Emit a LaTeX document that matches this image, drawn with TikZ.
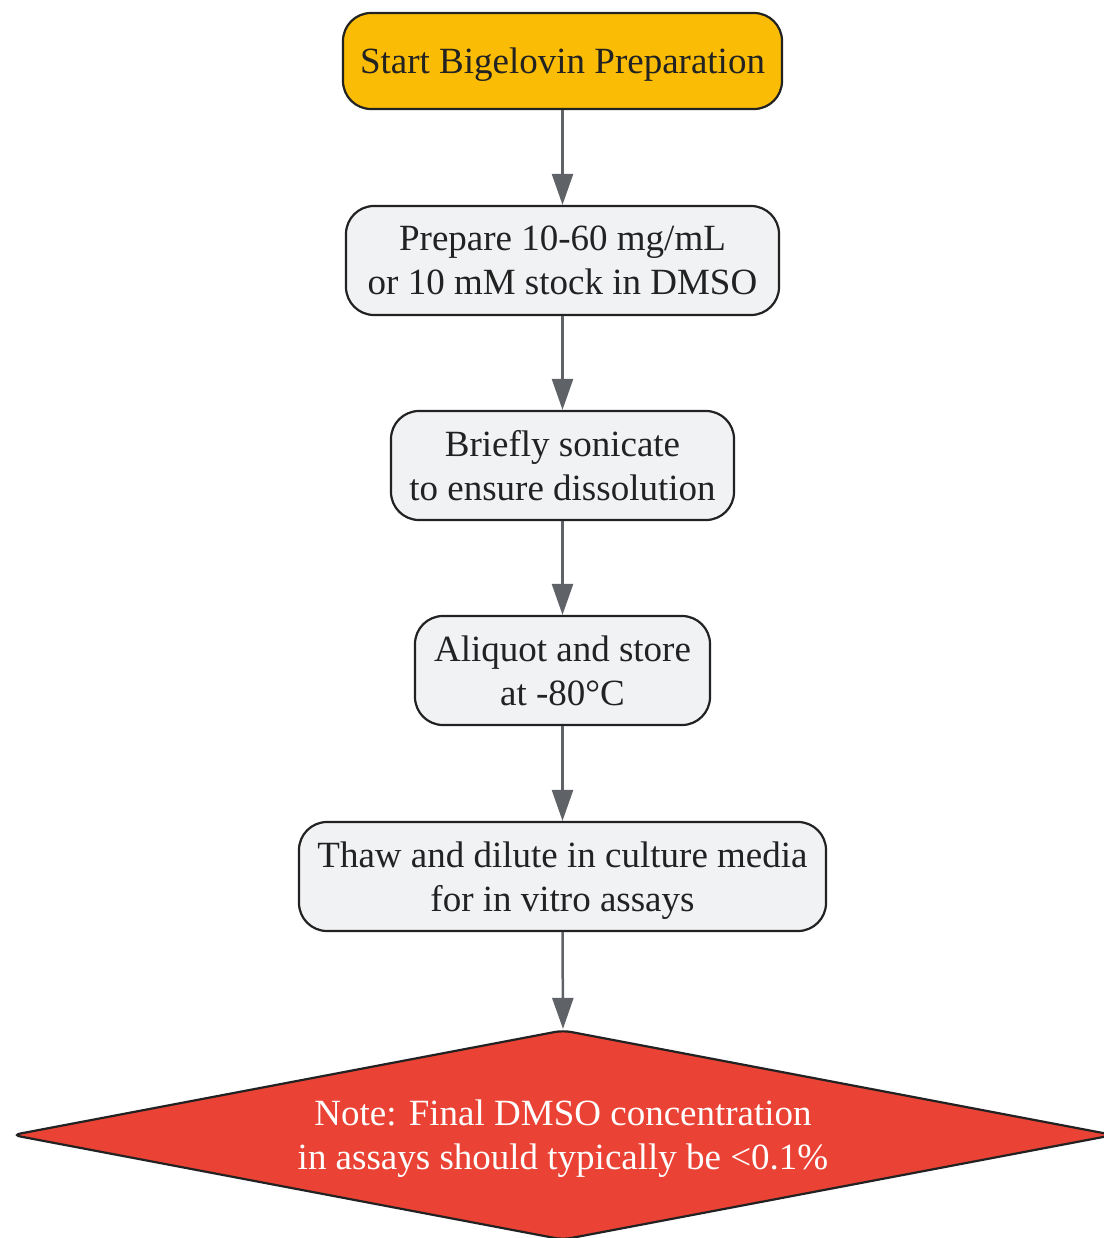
\documentclass[tikz,border=0pt]{standalone}
\usepackage{fontspec}
\setmainfont{Liberation Serif}
\usepackage{xcolor}
\usetikzlibrary{arrows.meta,shapes.geometric}

\definecolor{startyel}{HTML}{FABC05}
\definecolor{stepgray}{HTML}{F1F2F4}
\definecolor{notered}{HTML}{EA4335}
\definecolor{linegray}{HTML}{5F6368}
\definecolor{inkdark}{HTML}{222222}

\tikzset{
	box/.style={draw=inkdark, line width=2.2pt, rounded corners=28pt, fill=stepgray,
		text=inkdark, align=center, inner sep=0pt, minimum height=109pt, text depth=0pt,
		font=\fontsize{37}{44}\selectfont},
	arr/.style={draw=linegray, line width=2.5pt, -{Triangle[width=21pt,length=31pt]}},
}

\begin{document}
\begin{tikzpicture}[x=1pt,y=-1pt]
\useasboundingbox (0,0) rectangle (1103,1238);
	\node[box, fill=startyel, minimum width=439pt, minimum height=96pt] at (562.5,61) (start) {Start Bigelovin Preparation};
	\node[box, minimum width=433pt] at (562.5,260.5) (prep) {Prepare 10-60 mg/mL\\or 10 mM stock in DMSO};
	\node[box, minimum width=343pt] at (562.5,465.5) (soni) {Briefly sonicate\\to ensure dissolution};
	\node[box, minimum width=295pt] at (562.5,670.5) (aliq) {Aliquot and store\\at -80°C};
	\node[box, minimum width=527pt] at (562.5,876.5) (thaw) {Thaw and dilute in culture media\\for in vitro assays};
	\node[diamond, draw=inkdark, line width=2.2pt, fill=notered, text=white, align=center,
		inner sep=0pt, aspect=5.25, minimum width=1102pt, minimum height=210pt, rounded corners=8pt,
		text depth=0pt, font=\fontsize{37}{44}\selectfont] at (563,1135) (note) {Note: Final DMSO concentration\\in assays should typically be <0.1\%};
	\draw [arr] (start.south) -- (prep.north);
	\draw [arr] (prep.south) -- (soni.north);
	\draw [arr] (soni.south) -- (aliq.north);
	\draw [arr] (aliq.south) -- (thaw.north);
	\draw [arr] (thaw.south) -- (note.north);
\end{tikzpicture}
\end{document}
